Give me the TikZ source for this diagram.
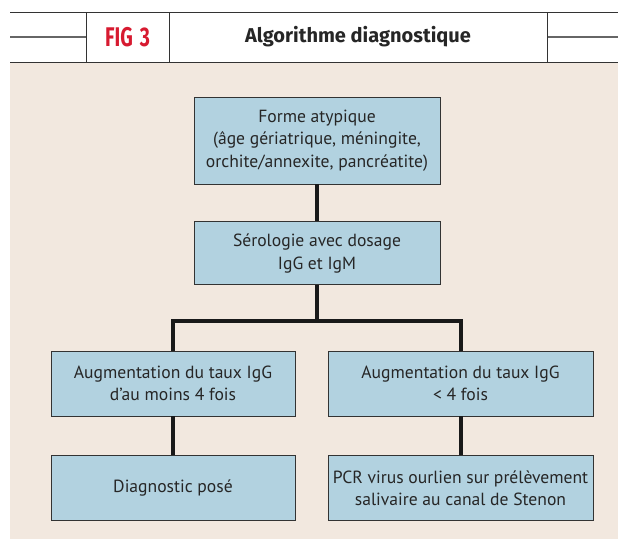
\documentclass[tikz,border=0pt]{standalone}
\usepackage{fontspec}
\setmainfont{PT Sans}
\newfontfamily\headfont{Fira Sans}
\newfontfamily\figfont[FakeStretch=0.72]{Fira Sans}
\usepackage{tikz}
\usetikzlibrary{positioning,calc}

\definecolor{fondbeige}{HTML}{F2E8DF}
\definecolor{boitebleu}{HTML}{B2D2E0}
\definecolor{figrouge}{HTML}{D71A30}
\definecolor{trait}{HTML}{333333}

\begin{document}
\begin{tikzpicture}[x=1pt,y=-1pt,font=\fontsize{17.6}{22.5}\selectfont]

    \tikzstyle{boite}=[draw=trait,fill=boitebleu,text=black!85,line width=0.9pt,rectangle,align=center,inner sep=0pt]
    \tikzstyle{lien}=[line width=4pt,draw=black!90]
    \tikzstyle{cadre}=[draw=trait,line width=0.9pt]

    \useasboundingbox (0,0) rectangle (618,539);
    \fill[fondbeige] (10,63) rectangle (618,539);

    % en-tete
    \draw[cadre] (10,12) -- (618,12);
    \draw[cadre] (10,62) -- (618,62);
    \draw[draw=black!60,line width=1.8pt] (10,37) -- (86,37) (547,37) -- (618,37);
    \draw[cadre] (86,12) -- (86,62) (169,12) -- (169,62) (547,12) -- (547,62);
    \node (fig)   at (127.5,37) {\figfont\bfseries\fontsize{27}{27}\selectfont\color{figrouge}FIG\hspace{7pt}3};
    \node (titre) at (358,37)   {\headfont\bfseries\fontsize{20}{20}\selectfont\color{black!85}Algorithme diagnostique};

    % boites
    \node[boite,minimum width=246pt,minimum height=87pt] (forme) at (317,140.5)
        {Forme atypique\\(âge gériatrique, méningite,\\orchite/annexite, pancréatite)};
    \node[boite,minimum width=246pt,minimum height=63pt,below=37pt of forme] (sero)
        {Sérologie avec dosage\\IgG et IgM};
    \node[boite,minimum width=244pt,minimum height=65pt] (plus4) at (173,383.5)
        {Augmentation du taux IgG\\d’au moins 4 fois};
    \node[boite,minimum width=265pt,minimum height=65pt] (moins4) at (460.5,383.5)
        {Augmentation du taux IgG\\< 4 fois};
    \node[boite,minimum width=244pt,minimum height=65pt,below=39pt of plus4] (diag)
        {Diagnostic posé};
    \node[boite,minimum width=265pt,minimum height=65pt,below=39pt of moins4] (pcr)
        {PCR virus ourlien sur prélèvement\\salivaire au canal de Stenon};

    % liens
    \coordinate (branche) at ($(sero.south)+(0,36)$);
    \draw[lien] (forme) -- (sero);
    \draw[lien] (sero.south) -- (branche) -| (plus4.north);
    \draw[lien] (branche) -| (moins4.north);
    \draw[lien] (plus4) -- (diag);
    \draw[lien] (moins4) -- (pcr);

\end{tikzpicture}
\end{document}
